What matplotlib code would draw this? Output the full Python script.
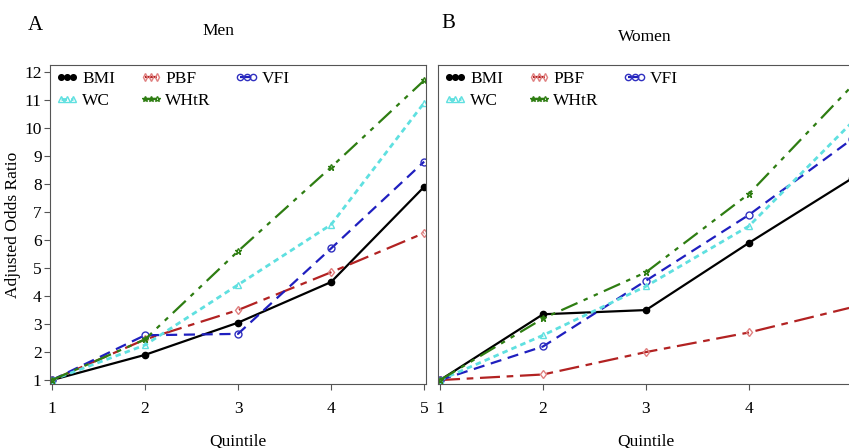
import matplotlib
matplotlib.use('Agg')
import matplotlib.pyplot as plt

quintile = [1, 2, 3, 4, 5]

# Men
men_bmi = [1.0, 1.9, 3.05, 4.5, 7.9]
men_pbf = [1.0, 2.45, 3.5, 4.85, 6.25]
men_vfi = [1.0, 2.6, 2.65, 5.7, 8.8]
men_wc = [1.0, 2.25, 4.4, 6.55, 10.9]
men_whtr = [1.0, 2.45, 5.6, 8.6, 11.7]

# Women
women_bmi = [1.0, 3.35, 3.5, 5.9, 8.2]
women_pbf = [1.0, 1.2, 2.0, 2.7, 3.6]
women_vfi = [1.0, 2.2, 4.55, 6.9, 9.6]
women_wc = [1.0, 2.6, 4.35, 6.5, 10.2]
women_whtr = [1.0, 3.2, 4.85, 7.65, 11.5]

plt.rcParams['font.family'] = ['Liberation Serif', 'DejaVu Serif']

styles = {
    'BMI': dict(color='black', linestyle='-', marker='o', markersize=4.5, mfc='black', lw=1.6),
    'PBF': dict(color='#b22222', dashes=(9, 3, 3, 3), marker='d', markersize=4.5, mfc='none', mec='#e08080', lw=1.6),
    'VFI': dict(color='#1f1fbf', dashes=(5, 3), marker='o', markersize=5, mfc='none', mec='#3030c0', lw=1.6),
    'WC': dict(color='#5fe0e0', dashes=(2, 1.5), marker='^', markersize=4.5, mfc='none', mec='#5fe0e0', lw=2),
    'WHtR': dict(color='#2e7d12', dashes=(8, 3, 2, 3, 2, 3), marker='*', markersize=4.5, mfc='none', mec='#2e7d12', lw=1.6),
}


def draw_panel(ax, data, show_y):
    for name in ['BMI', 'PBF', 'VFI', 'WC', 'WHtR']:
        ax.plot(quintile, data[name], label=name, **styles[name])
    ax.set_ylim(0.86, 12.25)
    ax.set_yticks(range(1, 13))
    ax.set_xticks(quintile)
    ax.tick_params(labelsize=12.5, length=4, color='#555555')
    ax.tick_params(axis='x', pad=8)
    ax.tick_params(axis='y', pad=2)
    for spine in ax.spines.values():
        spine.set_color('#555555')
    if not show_y:
        ax.set_yticklabels([])
        ax.tick_params(axis='y', length=0)
    ax.set_xlabel('Quintile', fontsize=12.5, labelpad=12)
    # legend order: BMI PBF VFI / WC WHtR
    h, l = ax.get_legend_handles_labels()
    order = [0, 3, 1, 4, 2]
    leg = ax.legend([h[i] for i in order], [l[i] for i in order], ncol=3, loc='upper left',
                    frameon=False, fontsize=12.5, numpoints=3, handlelength=1.3,
                    handletextpad=0.2, columnspacing=1.4, labelspacing=0.35,
                    borderaxespad=0.25, borderpad=0.1, markerscale=0.9)
    return leg


fig = plt.figure(figsize=(8.49, 4.48), dpi=100)
ax1 = fig.add_axes([50 / 849, 64 / 448, 376 / 849, 319 / 448])
ax2 = fig.add_axes([438 / 849, 64 / 448, 416 / 849, 319 / 448])

draw_panel(ax1, {'BMI': men_bmi, 'PBF': men_pbf, 'VFI': men_vfi, 'WC': men_wc, 'WHtR': men_whtr}, True)
ax1.set_xlim(0.98, 5.02)
ax1.set_ylabel('Adjusted Odds Ratio', fontsize=12.5, labelpad=2)

draw_panel(ax2, {'BMI': women_bmi, 'PBF': women_pbf, 'VFI': women_vfi, 'WC': women_wc, 'WHtR': women_whtr}, False)
ax2.set_xlim(0.98, 5.02)

fig.text(35 / 849, 1 - 25 / 448, 'A', fontsize=15, ha='center', va='center')
fig.text(218 / 849, 1 - 31 / 448, 'Men', fontsize=12.5, ha='center', va='center')
fig.text(448 / 849, 1 - 23 / 448, 'B', fontsize=15, ha='center', va='center')
fig.text(645 / 849, 1 - 37 / 448, 'Women', fontsize=12.5, ha='center', va='center')

fig.savefig('out.png', dpi=100)
